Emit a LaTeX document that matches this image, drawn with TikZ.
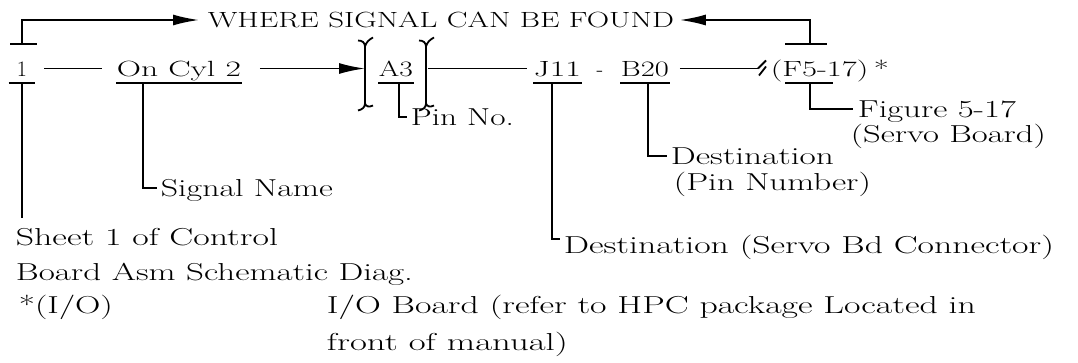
\documentclass[tikz,border=0pt]{standalone}
\usepackage{fontspec}
\usepackage{graphicx}
\usetikzlibrary{arrows.meta}
\newcommand\fitw[2]{\resizebox{#1pt}{\height}{#2}}
\tikzset{
  rowtxt/.style={inner sep=0pt, anchor=base west, font=\fontsize{22}{26}\selectfont, text height=15pt, text depth=0pt},
  labtxt/.style={inner sep=0pt, anchor=base west, font=\fontsize{24.5}{28}\selectfont, text height=16.5pt, text depth=0pt},
  arr/.style={-{Latex[length=26pt,width=11pt]}},
  curlbr/.pic={
    \draw (-7,-28) .. controls (-3,-28) and (0,-26) .. (0,-22) .. controls (1,-26) and (4,-29) .. (8,-31);
    \draw (0,-22) -- (0,35);
    \draw (-7,42) .. controls (-3,41) and (0,39) .. (0,35) .. controls (1,38) and (4,39) .. (8,37);
  }
}
\begin{document}
\begin{tikzpicture}[x=1pt,y=-1pt,line width=1.8pt]
\useasboundingbox (0,0) rectangle (1078,362);

% heading
\node[rowtxt] (where) at (207,27.5) {\fitw{466}{WHERE SIGNAL CAN BE FOUND}};

% main row
\node[rowtxt, anchor=base, minimum width=25pt] (one) at (22,76) {1};
\node[rowtxt] (oncyl) at (116,76) {\fitw{124}{On Cyl 2}};
\node[rowtxt] (a3) at (378,76) {\fitw{34}{A3}};
\node[rowtxt] (j11) at (533,76) {\fitw{47}{J11}};
\node[rowtxt, anchor=base] (dash) at (600,76) {-};
\node[rowtxt] (b20) at (620,76) {\fitw{48}{B20}};
\node[rowtxt] (f5) at (770,76) {\fitw{118}{(F5-17)\,*}};

\foreach \n in {one,oncyl,a3,j11,b20}
  \draw ([yshift=-6pt]\n.south west) -- ([yshift=-6pt]\n.south east);
\draw ([xshift=15pt,yshift=-6pt]f5.south west) -- ([xshift=63pt,yshift=-6pt]f5.south west);

\coordinate (lbr) at (365,68.5);
\coordinate (rbr) at (426,68.5);
\pic at (lbr) {curlbr};
\pic at (rbr) {curlbr};
\coordinate (sq) at (758,68.5);

\draw ([xshift=9pt]one.east) -- ([xshift=-14pt]oncyl.west);
\draw[arr] ([xshift=18pt]oncyl.east) -- (lbr);
\draw ([xshift=2pt]rbr) -- ([xshift=-6pt]j11.west);
\draw ([xshift=10pt]b20.east) -- (sq);
\draw (sq) -- ([xshift=8pt,yshift=8pt]sq);
\draw ([xshift=8pt,yshift=2pt]sq) -- ([xshift=1pt,yshift=-7pt]sq);

% top bracket arrows
\coordinate (tickL) at (22,44);
\coordinate (tickR) at (810,44);
\draw ([xshift=-12pt]tickL) -- ([xshift=15pt]tickL);
\draw ([xshift=-25pt]tickR) -- ([xshift=17pt]tickR);
\draw[arr] (tickL) |- ([xshift=-8pt]where.west);
\draw[arr] (tickR) |- ([xshift=5pt]where.east);

% labels
\node[labtxt] (signame) at (160,196) {\fitw{172}{Signal Name}};
\node[labtxt] (pinno) at (410,125) {\fitw{103}{Pin No.}};
\node[labtxt] (fig) at (857,117) {\fitw{158}{Figure 5-17}};
\node[labtxt] (servo) at (850,142) {\fitw{195}{(Servo Board)}};
\node[labtxt] (dest) at (670,164) {\fitw{163}{Destination}};
\node[labtxt] (pinnum) at (673,190) {\fitw{197}{(Pin Number)}};
\node[labtxt] (destsc) at (563,253) {\fitw{490}{Destination (Servo Bd Connector)}};
\node[labtxt] (sheet) at (15,245) {\fitw{262}{Sheet 1 of Control}};
\node[labtxt] (board) at (15,280) {\fitw{397}{Board Asm Schematic Diag.}};
\node[labtxt] (io) at (18,313) {\fitw{94}{*(I/O)}};
\node[labtxt] (iob) at (326,313) {\fitw{649}{I/O Board (refer to HPC package Located in}};
\node[labtxt] (front) at (326,350) {\fitw{241}{front of manual)}};

% leaders
\coordinate (oneend) at (22,218);
\draw ([yshift=-6pt]one.south) -- (oneend);
\draw ([xshift=27pt,yshift=-6pt]oncyl.south west) |- ([xshift=-3pt]signame.west);
\draw ([xshift=21pt,yshift=-6pt]a3.south west) |- ([xshift=-3pt]pinno.west);
\draw ([xshift=19pt,yshift=-6pt]j11.south west) |- ([xshift=-3pt,yshift=-3pt]destsc.north west);
\draw ([xshift=28pt,yshift=-6pt]b20.south west) |- ([xshift=-3pt]dest.west);
\draw ([xshift=40pt,yshift=-6pt]f5.south west) |- ([xshift=-4pt]fig.west);
\end{tikzpicture}
\end{document}
